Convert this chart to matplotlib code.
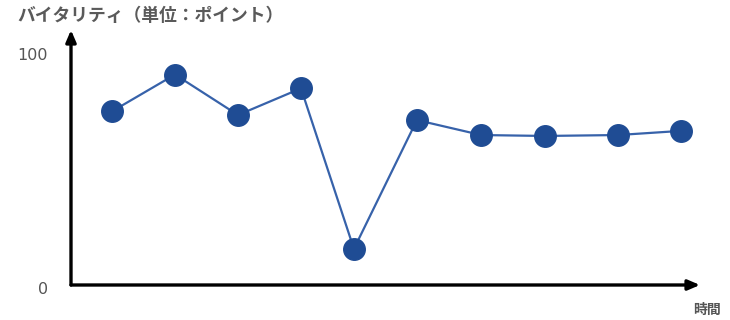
import matplotlib
matplotlib.use("Agg")
import matplotlib.pyplot as plt

plt.rcParams['font.family'] = ['Noto Sans CJK JP', 'DejaVu Sans']

# data
times = [1.0, 2.0, 3.0, 4.0, 4.84, 5.84, 6.86, 7.87, 9.03, 10.03]
vitality = [75.5, 91.5, 73.9, 85.5, 15.7, 71.7, 65.2, 64.8, 65.2, 67.0]
y_title = "バイタリティ（単位：ポイント）"
x_title = "時間"
y_ticks = [0, 100]
y_ticklabels = ["0", "100"]

W, H = 730, 320
fig = plt.figure(figsize=(W / 100, H / 100), dpi=100)
left, right, bottom, top = 71, 700, 285, 30
ax = fig.add_axes([left / W, 1 - bottom / H, (right - left) / W, (bottom - top) / H])

x0 = 1 - 41 / 63
x1 = 1 + 588 / 63
ax.set_xlim(x0, x1)
ax.set_ylim(0, (bottom - top) / 2.3)

line_color = "#3762aa"
marker_color = "#1f4c94"
ax.plot(times, vitality, color=line_color, lw=1.6, zorder=2, clip_on=False)
ax.plot(times, vitality, ls="none", marker="o", ms=15.5,
        mfc=marker_color, mec=marker_color, zorder=3, clip_on=False)

for s in ax.spines.values():
    s.set_visible(False)
ax.set_xticks([])
ax.set_yticks([])

# axes with arrows
ax.annotate("", xy=(1.0, 0), xytext=(0, 0), xycoords="axes fraction",
            arrowprops=dict(arrowstyle="-|>,head_length=0.7,head_width=0.3",
                            lw=2.4, color="black", shrinkA=0, shrinkB=0))
ax.annotate("", xy=(0, 1.0), xytext=(0, 0), xycoords="axes fraction",
            arrowprops=dict(arrowstyle="-|>,head_length=0.7,head_width=0.3",
                            lw=2.4, color="black", shrinkA=0, shrinkB=0))

gray = "#555555"
tick_pos = {0: 290, 100: 55}
for v, lab in zip(y_ticks, y_ticklabels):
    py = tick_pos[v]
    fig.text(48 / W, 1 - py / H, lab, ha="right", va="center", fontsize=11.5,
             color=gray, family=['DejaVu Sans'])

fig.text(17 / W, 1 - 16 / H, y_title, ha="left", va="center", fontsize=12.8,
         color="#5a5a5a", fontweight="bold")
fig.text(707 / W, 1 - 310 / H, x_title, ha="center", va="center", fontsize=10,
         color=gray, fontweight="bold")

fig.savefig("out.png", dpi=100)
